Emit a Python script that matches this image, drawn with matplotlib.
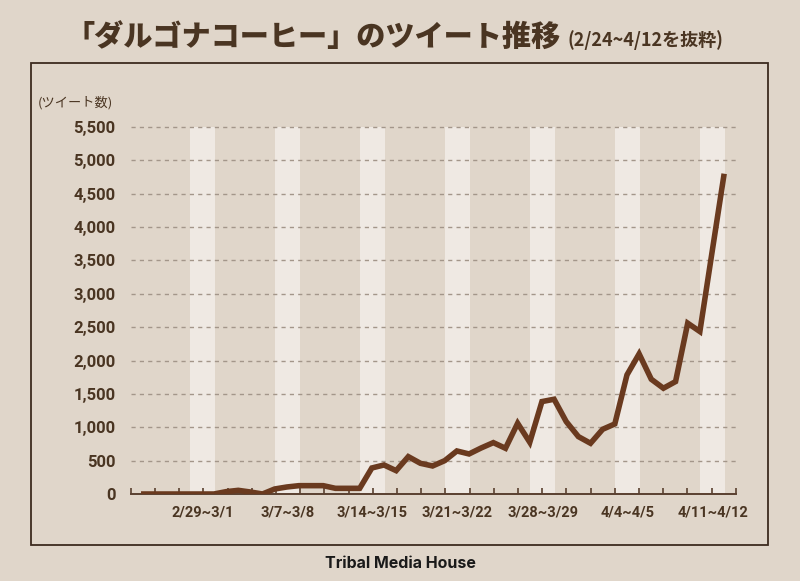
import numpy as np
import pandas as pd
import matplotlib
matplotlib.use("Agg")
import matplotlib.pyplot as plt
from matplotlib.patches import Rectangle

# daily tweet counts, 2020/2/24 - 2020/4/12
dates = pd.date_range("2020-02-24", "2020-04-12")
tweets = [0, 0, 0, 0, 0, 0, 0,
          35, 55, 30, 0, 75, 105, 125, 125, 125, 85, 85, 85,
          390, 435, 350, 560, 460, 420, 500, 645,
          600, 690, 770, 685, 1060, 775, 1385, 1420, 1085, 860, 760,
          970, 1050, 1785, 2100, 1720, 1585, 1685, 2560, 2435, 3620, 4800]

weekend_labels = ["2/29~3/1", "3/7~3/8", "3/14~3/15", "3/21~3/22",
                  "3/28~3/29", "4/4~4/5", "4/11~4/12"]
yticks = [0, 500, 1000, 1500, 2000, 2500, 3000, 3500, 4000, 4500, 5000, 5500]

bg = "#e0d6ca"
band = "#efe9e3"
brown = "#6a3a1f"
dark = "#4a3522"

plt.rcParams["font.family"] = ["Noto Sans CJK JP", "DejaVu Sans"]

fig = plt.figure(figsize=(8, 5.81), dpi=100, facecolor=bg)
ax = fig.add_axes([130.7 / 800, 1 - 494 / 581, 605 / 800, 367 / 581])
ax.set_facecolor(bg)

x = np.arange(len(tweets))
sat_idx = [i for i, d in enumerate(dates) if d.dayofweek == 5]

# weekend bands
for s in sat_idx:
    ax.axvspan(s - 0.95, s + 1.05, color=band, lw=0, zorder=0)

for v in yticks[1:]:
    ax.axhline(v, color="#a3968a", lw=1, ls=(0, (3, 3)), zorder=1, clip_on=False)

ax.plot(x, tweets, color=brown, lw=4, solid_joinstyle="miter",
        solid_capstyle="butt", zorder=3)

ax.set_xlim(-0.85, 48.95)
ax.set_ylim(0, 5500)

for sp in ["top", "right", "left"]:
    ax.spines[sp].set_visible(False)
ax.spines["bottom"].set_color("#5a4030")
ax.spines["bottom"].set_linewidth(1.4)

ax.set_yticks(yticks)
ax.set_yticklabels([f"{v:,}" for v in yticks], fontfamily="Roboto",
                   fontweight="bold", fontsize=12, color=dark)
ax.tick_params(axis="y", length=0, pad=11)

ax.set_xticks([s + 0.05 for s in sat_idx])
ax.set_xticklabels(weekend_labels, fontfamily="Roboto",
                   fontweight="bold", fontsize=10.5, color=dark)
ax.tick_params(axis="x", which="major", length=0, pad=8)
ax.set_xticks(-0.85 + 1.992 * np.arange(26), minor=True)
ax.tick_params(axis="x", which="minor", direction="in", length=4.5,
               width=1.2, color="#5a4030")

# outer frame
fig.patches.append(Rectangle((31 / 800, 1 - 545 / 581), 737 / 800, 482 / 581,
                             transform=fig.transFigure, fill=False,
                             ec="#3d2b1f", lw=1.3))

fig.text(66 / 800, 1 - 38 / 581, "「ダルゴナコーヒー」のツイート推移",
         fontsize=21, fontweight="black", color=dark, va="center", ha="left")
fig.text(723 / 800, 1 - 40 / 581, "(2/24~4/12を抜粋)",
         fontsize=13, fontweight="bold", color=dark, va="center", ha="right")
fig.text(75 / 800, 1 - 103 / 581, "(ツイート数)", fontsize=9.5, color=dark,
         va="center", ha="center")
fig.text(0.5, 1 - 563 / 581, "Tribal Media House", fontfamily="Inter",
         fontweight="bold", fontsize=11.5, color="#1a1a1a", va="center", ha="center")

fig.savefig("out.png", dpi=100, facecolor=bg)
